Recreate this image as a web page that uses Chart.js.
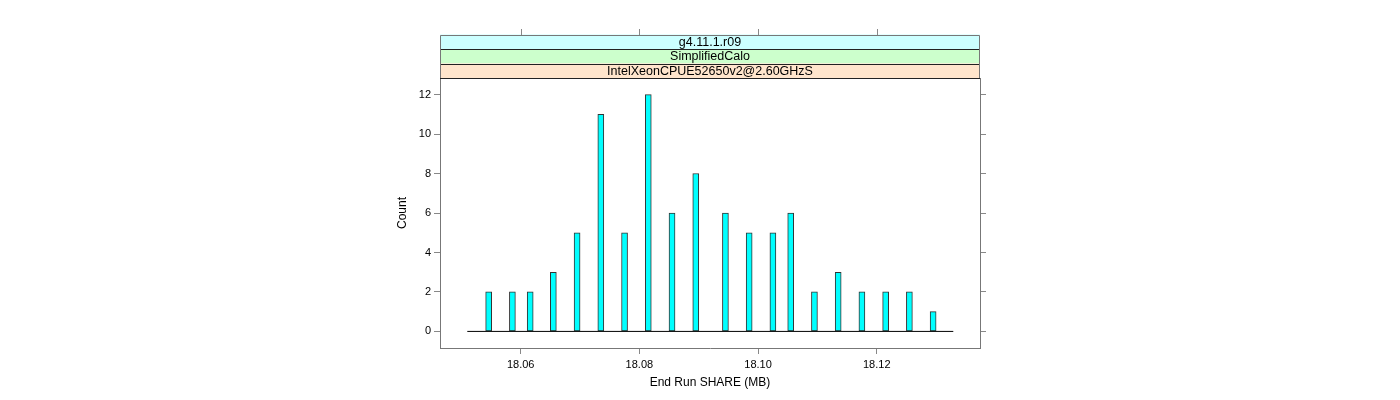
<!DOCTYPE html>
<html>
<head>
<meta charset="utf-8">
<script src="https://cdn.jsdelivr.net/npm/chart.js@4"></script>
<style>
    body { margin: 0; background: #fff; }
    canvas { display: block; }
</style>
</head>
<body>
<canvas id="myChart" width="1400" height="400"></canvas>
<script>
// bin centres (MB) and counts
const shareValues = [18.0546, 18.0586, 18.0616, 18.0655, 18.0695, 18.0735, 18.0775, 18.0815, 18.0855, 18.0895,
                     18.0945, 18.0985, 18.1025, 18.1055, 18.1095, 18.1135, 18.1175, 18.1215, 18.1255, 18.1295];
const counts = [2, 2, 2, 3, 5, 11, 5, 12, 6, 8, 6, 5, 5, 6, 2, 3, 2, 2, 2, 1];

// histogram range (the black base line)
const histRange = [18.0510, 18.1329];

const xTicks = [18.06, 18.08, 18.10, 18.12];
const yTicks = [0, 2, 4, 6, 8, 10, 12];
const xRange = [18.0464, 18.1374];
const yRange = [-0.84, 12.84];

const stripLabels = ["g4.11.1.r09", "SimplifiedCalo", "IntelXeonCPUE52650v2@2.60GHzS"];
const stripColors = ["#ccffff", "#ccffcc", "#ffe5cc"];

Chart.defaults.font.family = "'Liberation Sans', Arial, sans-serif";
Chart.defaults.font.size = 11;
Chart.defaults.color = "#000";

// strips above the panel plus the top tick marks
const stripPlugin = {
    id: 'strips',
    afterDraw(chart) {
        const ctx = chart.ctx;
        const area = chart.chartArea;
        const stripH = 14.5;
        const top = area.top - stripH * stripLabels.length;
        ctx.save();
        stripLabels.forEach((label, i) => {
            const y = top + i * stripH;
            ctx.fillStyle = stripColors[i];
            ctx.fillRect(area.left, y, area.right - area.left, stripH);
            ctx.fillStyle = "#000";
            ctx.font = "12.5px 'Liberation Sans', Arial, sans-serif";
            ctx.textAlign = "center";
            ctx.textBaseline = "middle";
            ctx.fillText(label, (area.left + area.right) / 2, y + stripH / 2 + 0.5);
        });
        // separators
        ctx.strokeStyle = "#222";
        ctx.lineWidth = 1;
        for (let i = 1; i <= stripLabels.length; i++) {
            const y = Math.round(top + i * stripH) + 0.5;
            ctx.beginPath();
            ctx.moveTo(area.left, y);
            ctx.lineTo(area.right, y);
            ctx.stroke();
        }
        // outer frame of the strips
        ctx.strokeStyle = "#777";
        ctx.beginPath();
        ctx.moveTo(Math.round(area.left) + 0.5, area.top);
        ctx.lineTo(Math.round(area.left) + 0.5, Math.round(top) + 0.5);
        ctx.lineTo(Math.round(area.right) - 0.5, Math.round(top) + 0.5);
        ctx.lineTo(Math.round(area.right) - 0.5, area.top);
        ctx.stroke();
        // top tick marks
        const xScale = chart.scales.x;
        ctx.strokeStyle = "#888";
        xTicks.forEach(v => {
            const x = Math.round(xScale.getPixelForValue(v)) + 0.5;
            ctx.beginPath();
            ctx.moveTo(x, Math.round(top));
            ctx.lineTo(x, Math.round(top) - 6);
            ctx.stroke();
        });
        ctx.restore();
    }
};

const axisGrid = {
    drawOnChartArea: false,
    drawTicks: true,
    tickLength: 6,
    offset: false,
    color: "#888"
};

new Chart(document.getElementById('myChart').getContext('2d'), {
    type: 'bar',
    data: {
        datasets: [{
            type: 'line',
            data: histRange.map(v => ({ x: v, y: 0 })),
            borderColor: "#000",
            borderWidth: 1,
            pointRadius: 0,
            order: 0
        }, {
            type: 'bar',
            data: shareValues.map((v, i) => ({ x: v, y: counts[i] })),
            backgroundColor: "#00ffff",
            borderColor: "#333",
            borderWidth: 1,
            borderSkipped: false,
            barThickness: 6,
            order: 1
        }]
    },
    options: {
        responsive: false,
        animation: false,
        layout: {
            padding: { left: 391, right: 412, top: 78, bottom: 6 }
        },
        plugins: {
            legend: { display: false },
            tooltip: { enabled: false }
        },
        scales: {
            x: {
                type: 'linear',
                position: 'bottom',
                offset: false,
                min: xRange[0],
                max: xRange[1],
                afterBuildTicks: axis => { axis.ticks = xTicks.map(v => ({ value: v })); },
                afterFit: axis => { axis.height = 46; },
                ticks: {
                    padding: 4,
                    maxRotation: 0,
                    callback: v => v.toFixed(2)
                },
                grid: axisGrid,
                border: { display: true, color: "#777", width: 1 },
                title: {
                    display: true,
                    text: "End Run SHARE (MB)",
                    font: { size: 12 }
                }
            },
            y: {
                position: 'left',
                min: yRange[0],
                max: yRange[1],
                afterBuildTicks: axis => { axis.ticks = yTicks.map(v => ({ value: v })); },
                afterFit: axis => { axis.width = 49; },
                ticks: { padding: 3 },
                grid: axisGrid,
                border: { display: true, color: "#777", width: 1 },
                title: {
                    display: true,
                    text: "Count",
                    font: { size: 12 }
                }
            },
            y2: {
                position: 'right',
                min: yRange[0],
                max: yRange[1],
                afterBuildTicks: axis => { axis.ticks = yTicks.map(v => ({ value: v })); },
                afterFit: axis => { axis.width = 8; },
                ticks: { display: false },
                grid: axisGrid,
                border: { display: true, color: "#777", width: 1 }
            }
        }
    },
    plugins: [stripPlugin]
});
</script>
</body>
</html>
